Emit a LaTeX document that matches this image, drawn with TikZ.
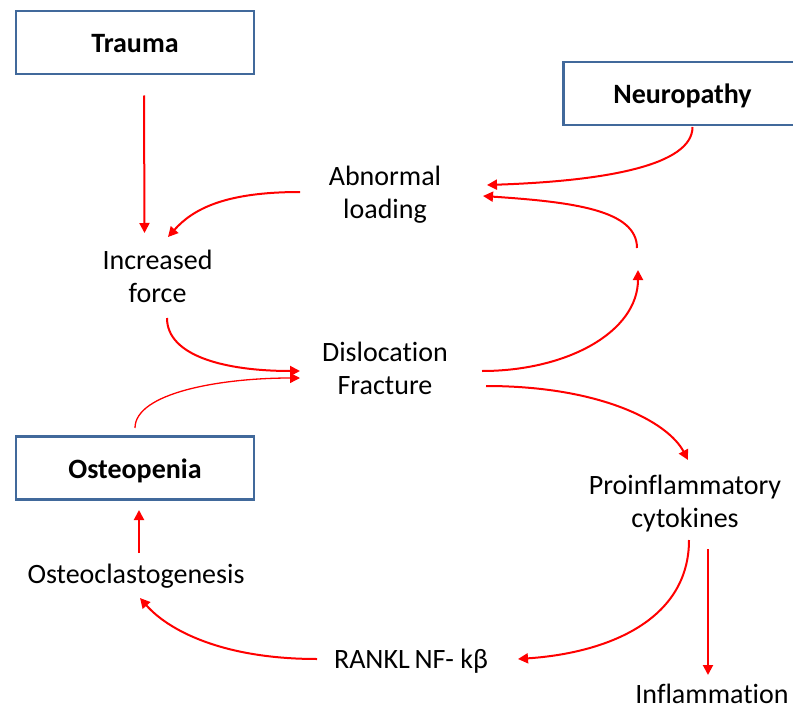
\documentclass[tikz,border=0pt]{standalone}
\usepackage{fontspec}
\setmainfont{Carlito}[Ligatures=NoCommon]
\usetikzlibrary{arrows.meta,calc}
\definecolor{boxblue}{RGB}{65,105,155}
\definecolor{arrred}{RGB}{255,0,0}
\tikzset{
  lbl/.style={inner sep=0pt, align=center, font=\fontsize{28}{33}\selectfont},
  boxlbl/.style={draw=boxblue, line width=2.4pt, minimum width=238pt, minimum height=63pt, inner sep=0pt, text height=20pt, text depth=0pt, font=\fontsize{28}{33}\selectfont\bfseries},
  arr/.style={draw=arrred, line width=2pt, -{Triangle[length=10pt,width=10pt]}},
  thinarr/.style={draw=arrred, line width=1.3pt, -{Triangle[length=10pt,width=10pt]}}
}
\begin{document}
\begin{tikzpicture}[x=1pt,y=-1pt]
\useasboundingbox (0,0) rectangle (793,709);
% boxes
\node[boxlbl] (trauma) at (135,42.5) {Trauma};
\node[boxlbl] (neuro) at (682.5,93.5) {Neuropathy};
\node[boxlbl] (osteo) at (135,468) {Osteopenia};
% labels
\node[lbl] (abn) at (385,195) {Abnormal\\loading};
\node[lbl] (inc) at (157.5,276) {Increased\\force};
\node[lbl] (dis) at (385,368) {Dislocation\\Fracture};
\node[lbl] (pro) at (685,504) {Proinflammatory\\cytokines};
\node[lbl] (ocg) at (136,576) {Osteoclastogenesis};
\node[lbl] (rankl) at (411,661) {RANKL\,NF- kβ};
\node[lbl] (infl) at (712,694) {Inflammation};
\coordinate (loopc) at (638,259);
% connectors
\draw[arr] ($(trauma)+(9,53)$) -- ($(inc)+(-13,-43)$);
\draw[arr] ($(neuro)+(10,33.5)$) .. controls +(0,38) and +(120,-4) .. ($(abn)+(102,-10)$);
\draw[arr] ($(loopc)+(-1,-11)$) .. controls +(0,-38) and +(90,6) .. ($(abn)+(98,1)$);
\draw[arr] ($(abn)+(-85,-3)$) .. controls +(-75,0) and +(25,-28) .. ($(inc)+(10.5,-39)$);
\draw[arr] ($(inc)+(9.5,42)$) .. controls +(0,38) and +(-75,0) .. ($(dis)+(-85,3)$);
\draw[thinarr] ($(osteo)+(0,-40)$) .. controls +(0,-35) and +(-80,0) .. ($(dis)+(-85,10)$);
\draw[arr] ($(dis)+(97,3)$) .. controls +(85,0) and +(0,62) .. ($(loopc)+(0,11)$);
\draw[arr] ($(dis)+(101,18)$) .. controls +(115,0) and +(-20,-38) .. ($(pro)+(3,-44)$);
\draw[arr] ($(pro)+(4,36)$) .. controls +(0,80) and +(90,-6) .. ($(rankl)+(107,-2)$);
\draw[arr] ($(pro)+(23,45)$) -- ($(infl)+(-4,-19)$);
\draw[arr] ($(rankl)+(-94,-2)$) .. controls +(-95,0) and +(28,32) .. ($(ocg)+(4,22)$);
\draw[arr] ($(ocg)+(3,-23)$) -- ($(osteo)+(4,42)$);
\end{tikzpicture}
\end{document}
